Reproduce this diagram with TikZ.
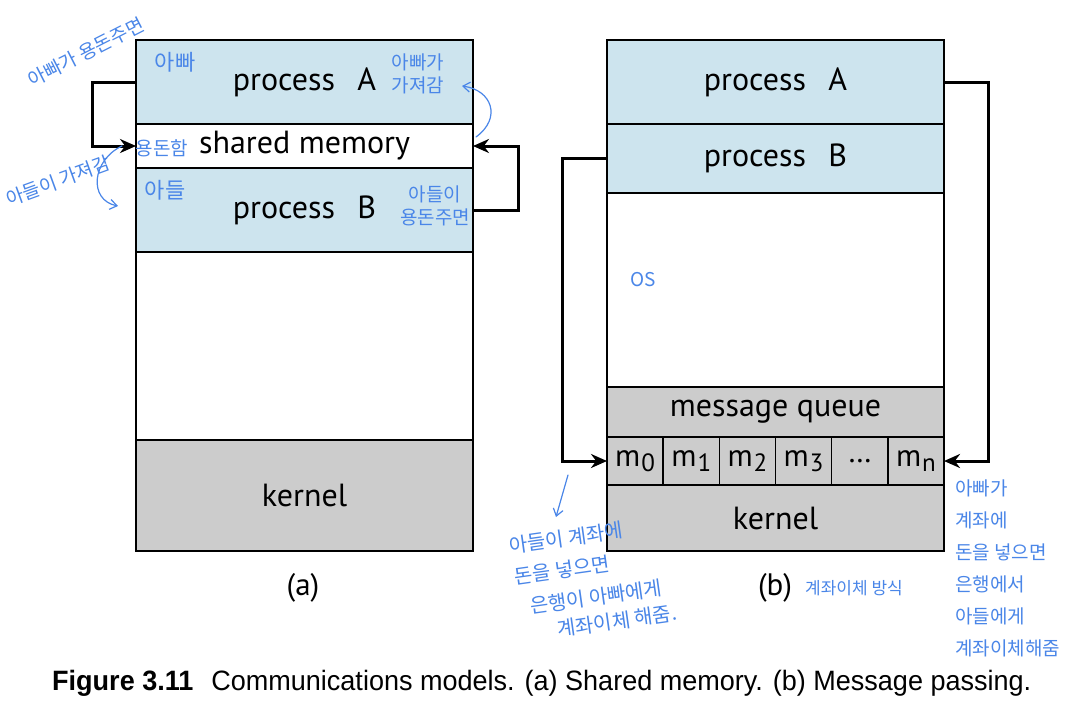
\documentclass[tikz,border=0pt]{standalone}
\usepackage{fontspec}
\setmainfont{PT Sans}
\newfontfamily\capfont[FakeStretch=0.965]{Liberation Sans}
\newfontfamily\kofont{Noto Sans CJK KR}
\usetikzlibrary{arrows.meta}
\definecolor{procblue}{RGB}{205,228,238}
\definecolor{krngray}{RGB}{204,204,204}
\definecolor{penblue}{RGB}{74,134,232}
\newcommand\msg[1]{m\kern1pt\raisebox{-0.35ex}{\fontsize{25}{25}\selectfont #1}}
\tikzset{
  blk/.style={draw, line width=1.5pt, minimum width=337pt, inner sep=0pt, outer sep=0pt,
    font=\fontsize{32}{32}\selectfont},
  proc/.style={blk, fill=procblue},
  krn/.style={blk, fill=krngray},
  cell/.style={draw, line width=1.5pt, fill=krngray, minimum width=56.17pt, minimum height=48pt,
    inner sep=0pt, outer sep=0pt, font=\fontsize{31}{31}\selectfont},
  link/.style={line width=3pt, -{Stealth[length=16pt,width=14pt]}},
  pen/.style={text=penblue, font=\kofont\fontsize{19}{23}\selectfont, inner sep=0pt, align=center},
  penline/.style={draw=penblue, line width=1.2pt, line cap=round, -{Straight Barb[length=7pt,width=10pt]}},
}
\begin{document}
\begin{tikzpicture}[x=1pt,y=-1pt]
  \useasboundingbox[fill=white] (0,0) rectangle (1072,716);
  % (a) shared memory
  \node[proc, minimum height=84pt] (pA) at (304.5,82) {process\hspace{0.7em}A};
  \node[blk, minimum height=44pt] (shm) at (304.5,146) {shared memory};
  \node[proc, minimum height=84pt] (pB) at (304.5,210) {process\hspace{0.7em}B};
  \node[blk, minimum height=188pt] (freeA) at (304.5,346) {};
  \node[krn, minimum height=111pt] (kerA) at (304.5,495.5) {kernel};
  \node[font=\fontsize{31}{31}\selectfont] (labA) at (303,588) {(a)};
  \draw[link] (pA.west) -- ++(-44,0) |- (shm.west);
  \draw[link] (pB.east) -- ++(45,0) |- (shm.east);

  % (b) message passing
  \node[proc, minimum height=84pt] (qA) at (775.5,82) {process\hspace{0.7em}A};
  \node[proc, minimum height=69pt] (qB) at (775.5,158.5) {process\hspace{0.7em}B};
  \node[blk, minimum height=194pt] (os) at (775.5,290) {};
  \node[krn, minimum height=50pt] (mq) at (775.5,412) {message queue};
  \foreach \lab [count=\i from 0] in {\msg0,\msg1,\msg2,\msg3,\ldots,\msg{n}}
    \node[cell] (m\i) at (635.08+56.17*\i,461) {\lab};
  \node[krn, minimum height=66pt] (kerB) at (775.5,518) {kernel};
  \node[font=\fontsize{31}{31}\selectfont] (labB) at (775,588) {(b)};
  \draw[link] (qB.west) -- ++(-45,0) |- (m0.west);
  \draw[link] (qA.east) -- ++(44,0) |- (m5.east);

  % handwritten notes
  \node[pen, rotate=27] (n1) at (86,52) {아빠가 용돈주면};
  \node[pen, font=\kofont\fontsize{22}{22}\selectfont] (n2) at (175,62) {아빠};
  \node[pen] (n3) at (418,74) {아빠가\\가져감};
  \node[pen] (n4) at (162,148) {용돈함};
  \node[pen, rotate=20] (n5) at (58,181) {아들이 가져감};
  \node[pen, font=\kofont\fontsize{22}{22}\selectfont] (n6) at (165,190) {아들};
  \node[pen] (n7) at (435,206) {아들이\\용돈주면};
  \node[pen] (n8) at (643,280) {OS};
  \draw[penline] (476,137) .. controls (502,118) and (492,90) .. (462,86);
  \draw[penline] (122,146) .. controls (92,160) and (88,200) .. (118,206);
  \coordinate (c1) at (568,475);
  \coordinate (c2) at (556,517);
  \draw[penline] (c1) -- (c2);
  \node[pen, rotate=8, font=\kofont\fontsize{20}{20}\selectfont] (n9) at (566,538) {아들이 계좌에};
  \node[pen, rotate=8, font=\kofont\fontsize{20}{20}\selectfont] (n10) at (562,570) {돈을 넣으면};
  \node[pen, rotate=8, font=\kofont\fontsize{20}{20}\selectfont] (n11) at (596,597) {은행이 아빠에게};
  \node[pen, rotate=8, font=\kofont\fontsize{20}{20}\selectfont] (n12) at (617,621) {계좌이체 해줌.};
  \node[pen, font=\kofont\fontsize{17}{17}\selectfont] (n13) at (854,588) {계좌이체 방식};
  \node[pen, align=left, anchor=north west, font=\kofont\fontsize{19}{32}\selectfont] (n14) at (955,480)
    {아빠가\\계좌에\\돈을 넣으면\\은행에서\\아들에게\\계좌이체해줌};

  % caption
  \node[anchor=west, inner sep=0pt, font=\capfont\fontsize{28}{28}\selectfont] (cap) at (52,683)
    {\textbf{Figure 3.11}\hspace{18pt}Communications models. (a) Shared memory. (b) Message passing.};
\end{tikzpicture}
\end{document}
